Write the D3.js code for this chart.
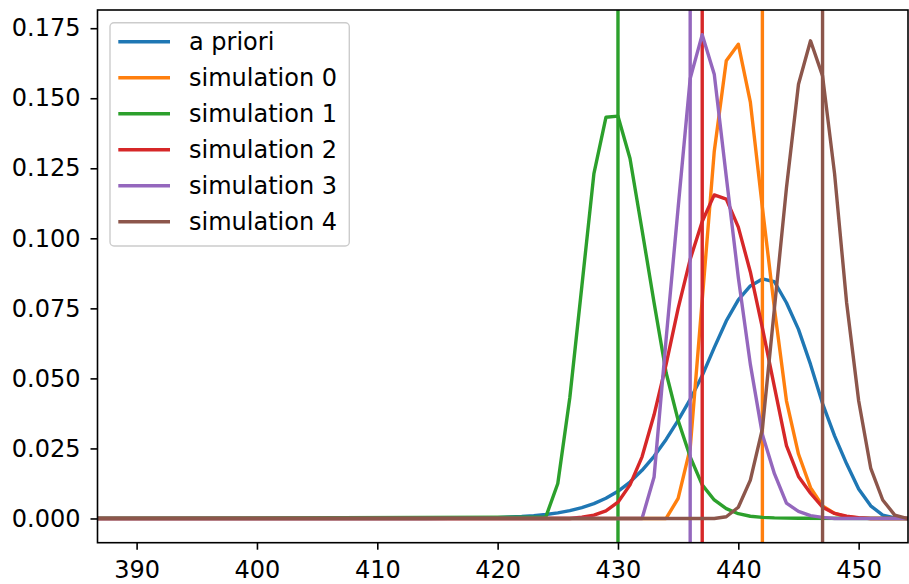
<!DOCTYPE html>
<html lang="en">
<head>
<meta charset="UTF-8">
<title>a priori vs simulations</title>
<script src="https://d3js.org/d3.v7.min.js"></script>
<style>
  body { margin: 0; background: #fff; }
  svg { display: block; font-family: "DejaVu Sans", sans-serif; }
</style>
</head>
<body>
<svg id="chart" width="909" height="584"></svg>
<script>
'use strict';

// curves: [x, probability]
const aPriori = [[380,0],[414,0],[416,0.0001],[418,0.0002],[420,0.0003],[421,0.0005],[422,0.0007],[423,0.001],[424,0.0014],[425,0.002],[426,0.0028],[427,0.0039],[428,0.0053],[429,0.0072],[430,0.0097],[431,0.013],[432,0.0172],[433,0.0222],[434,0.0282],[435,0.035],[436,0.0425],[437,0.051],[438,0.061],[439,0.0705],[440,0.078],[441,0.083],[442,0.0855],[443,0.0845],[444,0.077],[445,0.0675],[446,0.055],[447,0.041],[448,0.0295],[449,0.0195],[450,0.0105],[451,0.0045],[452,0.0012],[453,0.0002],[454,0],[460,0]];
const sim0 = [[380,0],[434,0],[435,0.0072],[436,0.025],[437,0.078],[438,0.131],[439,0.1634],[440,0.1693],[441,0.1486],[442,0.111],[443,0.075],[444,0.042],[445,0.023],[446,0.011],[447,0.0045],[448,0.0018],[449,0.0006],[450,0.0002],[451,0],[460,0]];
const sim1 = [[380,0],[424,0.0005],[425,0.0125],[426,0.0432],[427,0.083],[428,0.1231],[429,0.1432],[430,0.1436],[431,0.1285],[432,0.103],[433,0.077],[434,0.052],[435,0.035],[436,0.022],[437,0.012],[438,0.0066],[439,0.0035],[440,0.0017],[441,0.0008],[442,0.0004],[443,0.0002],[445,0.0001],[454,0],[460,0]];
const sim2 = [[380,0],[426,0],[427,0.0005],[428,0.0012],[429,0.0027],[430,0.0058],[431,0.012],[432,0.022],[433,0.037],[434,0.055],[435,0.075],[436,0.0925],[437,0.106],[438,0.1155],[439,0.114],[440,0.104],[441,0.088],[442,0.068],[443,0.047],[444,0.026],[445,0.015],[446,0.009],[447,0.004],[448,0.0018],[449,0.0008],[450,0.0003],[451,0],[460,0]];
const sim3 = [[380,0],[432,0],[433,0.0148],[434,0.064],[435,0.111],[436,0.157],[437,0.1727],[438,0.1586],[439,0.122],[440,0.086],[441,0.055],[442,0.03],[443,0.016],[444,0.0055],[445,0.0025],[446,0.001],[447,0.0004],[448,0],[460,0]];
const sim4 = [[380,0],[438,0],[439,0.0006],[440,0.004],[441,0.0137],[442,0.032],[443,0.075],[444,0.118],[445,0.155],[446,0.1705],[447,0.158],[448,0.123],[449,0.077],[450,0.042],[451,0.018],[452,0.0066],[453,0.0012],[454,0],[460,0]];

// vertical markers for each simulation
const simMarks = [442, 430, 437, 436, 447];

const labels = ['a priori', 'simulation 0', 'simulation 1', 'simulation 2', 'simulation 3', 'simulation 4'];
const colors = ['#1f77b4', '#ff7f0e', '#2ca02c', '#d62728', '#9467bd', '#8c564b'];
const xTicks = [390, 400, 410, 420, 430, 440, 450];
const yTicks = [0, 0.025, 0.05, 0.075, 0.1, 0.125, 0.15, 0.175];

const plotL = 97.5, plotR = 908, plotT = 10, plotB = 542.7;
const fontSize = '24px';
const svg = d3.select('#chart');

const x = d3.scaleLinear().domain([386.75, 454.1]).range([plotL, plotR]);
const y = d3.scaleLinear().domain([-0.00865, 0.1815]).range([plotB, plotT]);

svg.append('clipPath').attr('id', 'plotClip')
  .append('rect').attr('x', plotL).attr('y', plotT).attr('width', plotR - plotL).attr('height', plotB - plotT);

const plot = svg.append('g').attr('clip-path', 'url(#plotClip)');
const line = d3.line().x(d => x(d[0])).y(d => y(d[1]));
const lw = 3.4;

plot.append('path').datum(aPriori)
  .attr('d', line).attr('fill', 'none').attr('stroke', colors[0])
  .attr('stroke-width', lw).attr('stroke-linejoin', 'round');

[sim0, sim1, sim2, sim3, sim4].forEach((s, i) => {
  plot.append('path').datum(s)
    .attr('d', line).attr('fill', 'none').attr('stroke', colors[i + 1])
    .attr('stroke-width', lw).attr('stroke-linejoin', 'round');
  plot.append('line')
    .attr('x1', x(simMarks[i])).attr('x2', x(simMarks[i]))
    .attr('y1', plotT).attr('y2', plotB)
    .attr('stroke', colors[i + 1]).attr('stroke-width', lw);
});

// axes
const xAxis = svg.append('g').attr('transform', `translate(0,${plotB})`)
  .call(d3.axisBottom(x).tickValues(xTicks).tickFormat(d3.format('d')).tickSize(7).tickSizeOuter(0).tickPadding(11.5));
const yAxis = svg.append('g').attr('transform', `translate(${plotL},0)`)
  .call(d3.axisLeft(y).tickValues(yTicks).tickFormat(d3.format('.3f')).tickSize(7).tickSizeOuter(0).tickPadding(10));

[xAxis, yAxis].forEach(g => {
  g.select('.domain').remove();
  g.selectAll('.tick line').attr('stroke', '#000').attr('stroke-width', 1.6);
  g.selectAll('.tick text').attr('fill', '#000').style('font-size', fontSize)
    .style('font-family', '"DejaVu Sans", sans-serif');
});

svg.append('rect')
  .attr('x', plotL).attr('y', plotT).attr('width', plotR - plotL).attr('height', plotB - plotT)
  .attr('fill', 'none').attr('stroke', '#000').attr('stroke-width', 1.6);

// legend
const legend = svg.append('g');
legend.append('rect')
  .attr('x', 110).attr('y', 22.7).attr('width', 239.3).attr('height', 223.3)
  .attr('rx', 4).attr('fill', '#fff').attr('fill-opacity', 0.8)
  .attr('stroke', '#cccccc').attr('stroke-width', 1.4);

labels.forEach((lab, i) => {
  const cy = 41.7 + i * 36;
  legend.append('line')
    .attr('x1', 118.3).attr('x2', 170).attr('y1', cy).attr('y2', cy)
    .attr('stroke', colors[i]).attr('stroke-width', lw);
  legend.append('text')
    .attr('x', 189).attr('y', cy).attr('dy', '0.35em')
    .style('font-size', fontSize).attr('fill', '#000')
    .text(lab);
});
</script>
</body>
</html>
